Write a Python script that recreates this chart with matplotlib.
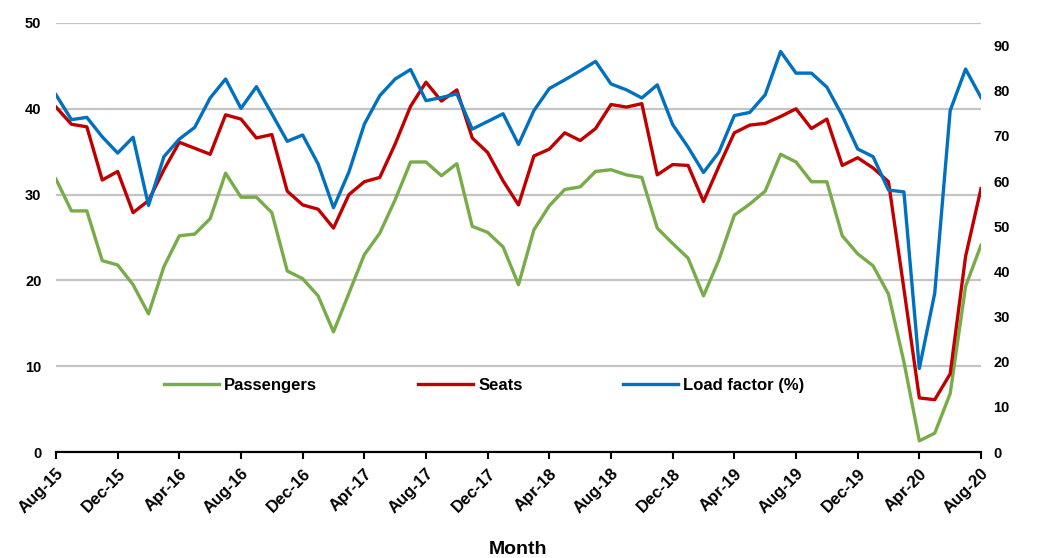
import numpy as np
import pandas as pd
import matplotlib
matplotlib.use("Agg")
import matplotlib.pyplot as plt

plt.rcParams["font.family"] = ["Liberation Sans", "DejaVu Sans"]
plt.rcParams["font.weight"] = "bold"

# monthly series, Aug-15 .. Aug-20
months = pd.date_range("2015-08-01", "2020-08-01", freq="MS").strftime("%b-%y").tolist()

passengers = [31.8, 28.1, 28.1, 22.3, 21.8, 19.5, 16.1, 21.6, 25.2, 25.4,
              27.2, 32.5, 29.7, 29.7, 27.9, 21.1, 20.2, 18.2, 14.0, 18.5,
              23.0, 25.5, 29.4, 33.8, 33.8, 32.2, 33.6, 26.3, 25.6, 23.9,
              19.5, 25.9, 28.7, 30.6, 30.9, 32.7, 32.9, 32.3, 32.0, 26.1,
              24.3, 22.6, 18.2, 22.4, 27.6, 28.9, 30.4, 34.7, 33.8, 31.5,
              31.5, 25.2, 23.1, 21.7, 18.4, 10.5, 1.3, 2.2, 6.8, 19.3, 24.1]

seats = [40.2, 38.2, 37.9, 31.7, 32.7, 27.9, 29.3, 32.9, 36.1, 35.4,
         34.7, 39.3, 38.8, 36.6, 37.0, 30.4, 28.8, 28.3, 26.1, 30.0,
         31.5, 32.0, 35.9, 40.3, 43.1, 40.9, 42.2, 36.6, 34.9, 31.6,
         28.8, 34.5, 35.3, 37.2, 36.3, 37.7, 40.5, 40.2, 40.6, 32.3,
         33.5, 33.4, 29.2, 33.3, 37.2, 38.1, 38.3, 39.1, 40.0, 37.7,
         38.8, 33.4, 34.3, 33.1, 31.5, 19.0, 6.3, 6.1, 9.1, 22.8, 30.7]

load_factor = [79.1, 73.6, 74.1, 69.8, 66.2, 69.7, 54.6, 65.4, 69.3, 71.9,
               78.4, 82.6, 76.1, 80.9, 74.9, 68.8, 70.2, 63.8, 54.1, 62.0,
               72.6, 78.9, 82.6, 84.7, 77.8, 78.5, 79.3, 71.5, 73.2, 74.9,
               68.1, 75.6, 80.5, 82.4, 84.4, 86.5, 81.5, 80.2, 78.4, 81.3,
               72.5, 67.5, 61.9, 66.4, 74.5, 75.2, 79.1, 88.7, 83.9, 83.9,
               80.8, 74.5, 67.1, 65.4, 58.0, 57.6, 18.5, 35.2, 75.6, 84.8, 78.5]

GREEN = "#77AC48"
RED = "#C00000"
BLUE = "#0070C0"

x = np.arange(len(months))

fig = plt.figure(figsize=(10.49, 5.58), dpi=100)
ax = fig.add_axes([56 / 1049, 1 - 452 / 558, 925 / 1049, 429 / 558])
ax2 = ax.twinx()

l1, = ax.plot(x, passengers, color=GREEN, lw=2.4, label="Passengers")
l2, = ax.plot(x, seats, color=RED, lw=2.4, label="Seats")
l3, = ax2.plot(x, load_factor, color=BLUE, lw=2.4, label="Load factor (%)")

ax.set_xlim(0, len(months) - 1)
ax.set_ylim(0, 50)
ax.set_yticks(range(0, 51, 10))
ax2.set_ylim(0, 95)
ax2.set_yticks(range(0, 91, 10))

ax.grid(axis="y", color="#c4c4c4", lw=1.6)
ax.set_axisbelow(True)
for a in (ax, ax2):
    for s in ("top", "left", "right"):
        a.spines[s].set_visible(False)
    a.spines["bottom"].set_color("black")
    a.spines["bottom"].set_linewidth(1.5)

ax.tick_params(axis="y", length=0, pad=10.5, labelsize=10.5)
ax2.tick_params(axis="y", length=0, pad=9, labelsize=10.5)

ax.set_xticks(x[::4])
ax.set_xticklabels(months[::4], rotation=45, ha="right", rotation_mode="anchor",
                   fontsize=12)
ax.tick_params(axis="x", direction="out", length=5, width=1.5, color="black", pad=5)

ax.set_xlabel("Month", fontsize=14, fontweight="bold", labelpad=18)

ax.legend(handles=[l1, l2, l3], loc="center left", bbox_to_anchor=(0.117, 0.156),
          ncol=3, frameon=False, fontsize=12, handlelength=3.3,
          handletextpad=0.3, columnspacing=6.05, borderpad=0, borderaxespad=0)

fig.savefig("out.png", dpi=100)
